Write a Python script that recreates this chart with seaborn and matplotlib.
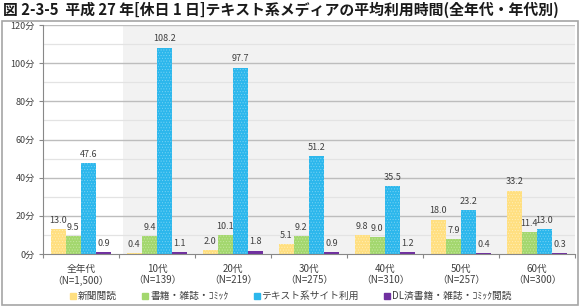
import matplotlib
matplotlib.use("Agg")
import matplotlib.pyplot as plt
import seaborn as sns
import pandas as pd
from matplotlib.patches import Rectangle
from matplotlib.lines import Line2D

categories = ["全年代", "10代", "20代", "30代", "40代", "50代", "60代"]
n_labels = ["N=1,500", "N=139", "N=219", "N=275", "N=310", "N=257", "N=300"]
series = ["新聞閲読", "書籍・雑誌・ｺﾐｯｸ", "テキスト系サイト利用", "DL済書籍・雑誌・ｺﾐｯｸ閲読"]
newspaper = [13.0, 0.4, 2.0, 5.1, 9.8, 18.0, 33.2]
books = [9.5, 9.4, 10.1, 9.2, 9.0, 7.9, 11.4]
text_sites = [47.6, 108.2, 97.7, 51.2, 35.5, 23.2, 13.0]
dl_books = [0.9, 1.1, 1.8, 0.9, 1.2, 0.4, 0.3]
y_ticks = [0, 20, 40, 60, 80, 100, 120]

colors = ["#FFDF80", "#A3D76E", "#2CB7EC", "#7030A0"]
hatch_colors = ["#FFEFB8", "#C6E8A2", "#7AD3F4", "#7030A0"]

sns.set_theme(style="white")
plt.rcParams['font.family'] = ['Noto Sans CJK JP', 'DejaVu Sans']
plt.rcParams['hatch.linewidth'] = 0.4

xlabels = [f"{c}\n（{n}）" for c, n in zip(categories, n_labels)]
rows = []
for s, vals in zip(series, [newspaper, books, text_sites, dl_books]):
    for xl, v in zip(xlabels, vals):
        rows.append({"group": xl, "series": s, "value": v})
df = pd.DataFrame(rows)

fig = plt.figure(figsize=(5.82, 3.07), dpi=100)
ax = fig.add_axes([43/582, 1-254/307, (575-43)/582, (254-25)/307])

ax.axvspan(0.55, 6.6, color="#F2F2F2", zorder=0, lw=0)
for y in range(10, 121, 20):
    ax.axhline(y, color="#E3E3E3", lw=0.9, zorder=0.5)
for y in range(20, 121, 20):
    ax.axhline(y, color="#BDBDBD", lw=1.0, zorder=0.5)

sns.barplot(data=df, x="group", y="value", hue="series", hue_order=series,
            order=xlabels, palette=colors, width=0.8, gap=0, ax=ax,
            legend=False, zorder=2, saturation=1)

for cont, hc in zip(ax.containers, hatch_colors):
    for p in cont.patches:
        p.set_hatch("......")
        p.set_edgecolor(hc)
        p.set_linewidth(0)
    ax.bar_label(cont, labels=[f"{v:.1f}" for v in cont.datavalues],
                 padding=3, fontsize=6.5, color="#404040")

ax.set_xlim(-0.5, 6.5)
ax.set_ylim(0, 120)
ax.set_yticks(y_ticks)
ax.set_yticklabels([f"{v}分" for v in y_ticks], fontsize=6.5, color="#404040")
ax.set_xlabel("")
ax.set_ylabel("")
ax.tick_params(axis="x", labelsize=7, colors="#404040", length=0, pad=7)
ax.tick_params(axis="y", length=3, width=0.8, color="#888888", pad=3, left=True)
for lab in ax.get_xticklabels():
    lab.set_linespacing(1.2)
ax.set_xticks([i + 0.5 for i in range(-1, 7)], minor=True)
ax.tick_params(axis="x", which="minor", length=3, width=0.8, color="#888888", bottom=True)

for s in ["top", "right"]:
    ax.spines[s].set_visible(False)
ax.spines["left"].set_color("#888888")
ax.spines["bottom"].set_color("#888888")
ax.spines["left"].set_linewidth(0.8)
ax.spines["bottom"].set_linewidth(0.8)

fig.patches.append(Rectangle((2/582, 1-305/307), 576/582, (305-21)/307,
                             transform=fig.transFigure, fill=False,
                             edgecolor="#A6A6A6", lw=1.2))

fig.text(3/582, 1-10/307, "図 2-3-5  平成 27 年[休日 1 日]テキスト系メディアの平均利用時間(全年代・年代別)",
         fontsize=10.7, fontweight="bold", va="center", ha="left", color="#1a1a1a")

handles = [Line2D([], [], marker="s", linestyle="none", markersize=4,
                  markerfacecolor=c, markeredgecolor=c) for c in colors]
fig.legend(handles, series, loc="center", bbox_to_anchor=(0.5, 1-296/307),
           ncol=4, frameon=False, fontsize=7, handlelength=0.6,
           handletextpad=0.2, columnspacing=2.6, labelcolor="#404040")

fig.savefig("out.png", dpi=100)
